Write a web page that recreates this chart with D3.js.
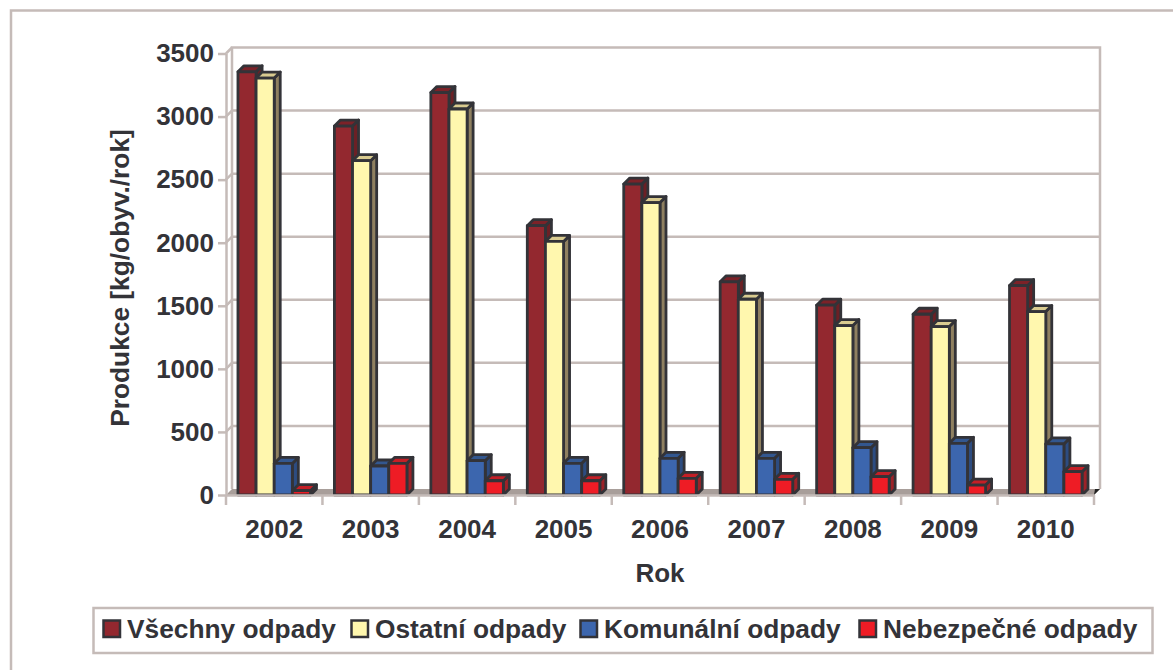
<!DOCTYPE html>
<html>
<head>
<meta charset="utf-8">
<script src="https://cdn.jsdelivr.net/npm/d3@7"></script>
<style>
html, body { margin: 0; padding: 0; background: #fff; }
svg { display: block; }
text { font-family: "Liberation Sans", Arial, sans-serif; font-weight: bold; fill: #333338; }
</style>
</head>
<body>
<svg id="chart" width="1173" height="670"></svg>
<script>
var years = ['2002', '2003', '2004', '2005', '2006', '2007', '2008', '2009', '2010'];
var seriesNames = ['Všechny odpady', 'Ostatní odpady', 'Komunální odpady', 'Nebezpečné odpady'];
var vsechny = [3355, 2925, 3190, 2135, 2465, 1690, 1505, 1433, 1660];
var ostatni = [3305, 2650, 3060, 2010, 2318, 1552, 1343, 1335, 1454];
var komunalni = [250, 230, 272, 251, 291, 291, 375, 410, 405];
var nebezpecne = [34, 251, 113, 113, 132, 124, 145, 79, 185];
var yTicks = [0, 500, 1000, 1500, 2000, 2500, 3000, 3500];

var seriesValues = [vsechny, ostatni, komunalni, nebezpecne];
var fronts = ['#93282f', '#fff7ae', '#3c66ae', '#ee1c25'];
var sides = ['#6b2025', '#8f8060', '#2d4c80', '#9c2228'];
var tops = ['#7c2228', '#d9cb90', '#33578f', '#c41f26'];

var svg = d3.select('#chart');
var left = 226, right = 1094, bottom = 495, top_ = 53.5;
var dx = 6, dy = 6;
var wallColor = '#c5bbb8', dark = '#333338';
var fontSize = '26px', legendFont = '26.3px';

var xScale = d3.scaleBand().domain(years).range([left, right]);
var yScale = d3.scaleLinear().domain([0, 3500]).range([bottom, top_]);
var barScale = d3.scaleBand().domain(d3.range(4)).range([0, xScale.bandwidth()]).paddingOuter(0.66).paddingInner(0);

// outer frame, only top and left fit in the picture
svg.append('path')
    .attr('d', 'M11,670V10.5H1173')
    .attr('fill', 'none')
    .attr('stroke', wallColor)
    .attr('stroke-width', 2.5);

// floor
svg.append('path')
    .attr('d', 'M' + left + ',' + bottom + 'L' + (left + dx) + ',' + (bottom - dy) + 'H' + (right + dx) + 'L' + right + ',' + bottom + 'Z')
    .attr('fill', '#a89e9a');

// back wall and grid
svg.append('path')
    .attr('d', 'M' + (left + dx) + ',' + (bottom - dy) + 'V' + (top_ - dy) + 'H' + (right + dx) + 'V' + (bottom - dy))
    .attr('fill', 'none')
    .attr('stroke', wallColor)
    .attr('stroke-width', 2.5);

svg.append('g').selectAll('path')
    .data(yTicks.slice(1, -1))
    .enter()
    .append('path')
    .attr('d', function (d) {
        return 'M' + left + ',' + yScale(d) + 'L' + (left + dx) + ',' + (yScale(d) - dy) + 'H' + (right + dx);
    })
    .attr('fill', 'none')
    .attr('stroke', wallColor)
    .attr('stroke-width', 2.5);

svg.append('path')
    .attr('d', 'M' + left + ',' + top_ + 'L' + (left + dx) + ',' + (top_ - dy))
    .attr('fill', 'none')
    .attr('stroke', wallColor)
    .attr('stroke-width', 2.5);

svg.append('path')
    .attr('d', 'M' + right + ',' + bottom + 'l' + dx + ',-' + dy + 'h-5z')
    .attr('fill', '#222');

// bars
var barW = barScale.bandwidth();
years.forEach(function (year, i) {
    seriesValues.forEach(function (values, s) {
        var x0 = xScale(year) + barScale(s);
        var x1 = x0 + barW;
        var y0 = yScale(values[i]);
        var g = svg.append('g')
            .attr('stroke', dark)
            .attr('stroke-width', 2.8)
            .attr('stroke-linejoin', 'round');
        g.append('path')
            .attr('fill', sides[s])
            .attr('d', 'M' + x1 + ',' + y0 + 'l' + dx + ',-' + dy + 'V' + (bottom - dy) + 'L' + x1 + ',' + bottom + 'Z');
        g.append('path')
            .attr('fill', tops[s])
            .attr('d', 'M' + x0 + ',' + y0 + 'l' + dx + ',-' + dy + 'H' + (x1 + dx) + 'L' + x1 + ',' + y0 + 'Z');
        g.append('rect')
            .attr('fill', fronts[s])
            .attr('x', x0)
            .attr('y', y0)
            .attr('width', barW)
            .attr('height', bottom - y0);
    });
});

// axes
var yAxis = svg.append('g')
    .attr('transform', 'translate(' + left + ',0)')
    .call(d3.axisLeft(yScale).tickValues(yTicks).tickSize(8).tickSizeOuter(0).tickPadding(4).tickFormat(d3.format('d')));

var xAxis = svg.append('g')
    .attr('transform', 'translate(0,' + bottom + ')')
    .call(d3.axisBottom(xScale).tickSize(0).tickSizeOuter(0).tickPadding(25));

svg.append('g')
    .attr('transform', 'translate(0,' + bottom + ')')
    .selectAll('line')
    .data(d3.range(years.length + 1))
    .enter()
    .append('line')
    .attr('x1', function (d) { return left + d * xScale.bandwidth(); })
    .attr('x2', function (d) { return left + d * xScale.bandwidth(); })
    .attr('y1', 0)
    .attr('y2', 10)
    .attr('stroke', wallColor)
    .attr('stroke-width', 2.5);

[yAxis, xAxis].forEach(function (a) {
    a.selectAll('path.domain, .tick line').attr('stroke', wallColor).attr('stroke-width', 2.5);
    a.selectAll('text').style('font-size', fontSize).style('font-family', '"Liberation Sans", Arial, sans-serif').attr('fill', '#333338');
});

// axis titles
svg.append('text')
    .attr('transform', 'rotate(-90)')
    .attr('x', -278)
    .attr('y', 129)
    .style('text-anchor', 'middle')
    .style('font-size', legendFont)
    .text('Produkce [kg/obyv./rok]');

svg.append('text')
    .attr('x', 660)
    .attr('y', 582)
    .style('text-anchor', 'middle')
    .style('font-size', fontSize)
    .text('Rok');

// legend
svg.append('rect')
    .attr('x', 93.5)
    .attr('y', 608)
    .attr('width', 1059)
    .attr('height', 45)
    .attr('fill', '#fff')
    .attr('stroke', wallColor)
    .attr('stroke-width', 2.5);

var legendX = [103, 351, 580, 859];
seriesNames.forEach(function (name, s) {
    svg.append('rect')
        .attr('x', legendX[s] + 0.5)
        .attr('y', 620.5)
        .attr('width', 16.5)
        .attr('height', 16.5)
        .attr('fill', fronts[s])
        .attr('stroke', dark)
        .attr('stroke-width', 2.5);
    svg.append('text')
        .attr('x', legendX[s] + 24)
        .attr('y', 638)
        .style('font-size', legendFont)
        .text(name);
});
</script>
</body>
</html>
